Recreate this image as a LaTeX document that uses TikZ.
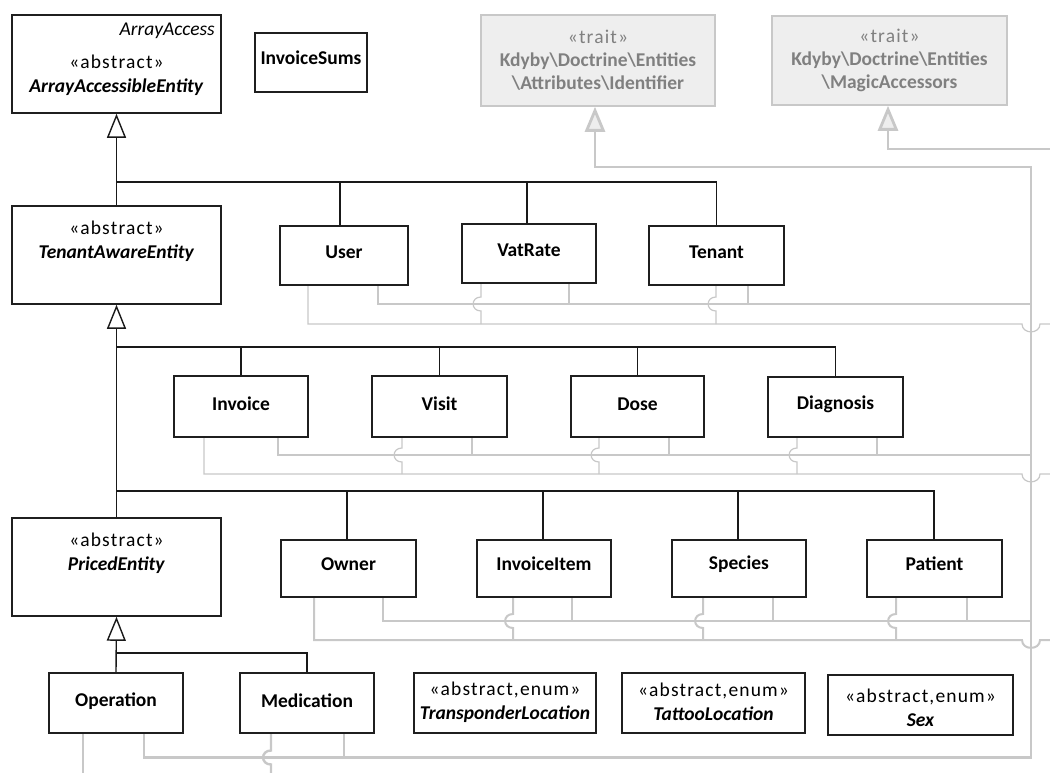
\documentclass[tikz,border=0pt]{standalone}
\usepackage{fontspec}
\setmainfont{Carlito}
\newfontfamily\stfont[LetterSpace=6]{Carlito}
\usetikzlibrary{arrows.meta}
\pgfdeclarelayer{paper}
\pgfdeclarelayer{wires}
\pgfsetlayers{paper,wires,main}

\definecolor{lineg}{RGB}{200,200,200}
\definecolor{tfill}{RGB}{238,238,238}
\definecolor{ttext}{RGB}{128,128,128}

% class box spanning x1..x2, y1..y2 (y grows downwards)
\newcommand\umlbox[6][cbox]{\node[#1, minimum width={#5-#3}, minimum height={#6-#4}] (#2) at ({(#3+#5)/2},{(#4+#6)/2}) {};}
% vertical wire jumping over a horizontal one at (x,y)
\newcommand\vhop[2]{-- (#1,#2-7) .. controls (#1-10.5,#2-7) and (#1-10.5,#2+7) .. (#1,#2+7)}
% horizontal wire jumping over the vertical trunk at (x,y)
\newcommand\hhop[2]{-- (#1-9,#2) .. controls (#1-9,#2+10.5) and (#1+9,#2+10.5) .. (#1+9,#2)}

\begin{document}
\begin{tikzpicture}[x=1pt,y=-1pt,
  cbox/.style={draw=black!88, line width=1.6pt, fill=white, inner sep=0pt},
  tbox/.style={draw=lineg, line width=1.6pt, fill=tfill, inner sep=0pt},
  lbl/.style={inner sep=0pt, align=center, font=\fontsize{19.5}{24}\selectfont},
  tlbl/.style={lbl, text=ttext, font=\fontsize{19.5}{23}\selectfont},
  gen/.style={draw=black!90, line width=1.4pt},
  opentri/.style={-{Triangle[open, length=24pt, width=19pt]}},
  ga/.style={draw=lineg, line width=1.2pt},
  gb/.style={draw=lineg, line width=2pt},
  gc/.style={draw=lineg, line width=2.4pt, line cap=rect},
  gt/.style={draw=lineg, line width=2.8pt, line cap=rect},
  traitarrow/.style={-{Triangle[length=25pt, width=20pt, fill=tfill]}}
]
\begin{pgfonlayer}{paper}
  \fill[white] (0,0) rectangle (1050,773);
\end{pgfonlayer}
\useasboundingbox (0,0) rectangle (1050,773);

% ---------- classes ----------
\umlbox{AAE}{12}{15}{221}{113}
\node[lbl, anchor=east, font=\fontsize{19.5}{24}\selectfont\itshape] (AAE-if) at (215,31) {ArrayAccess};
\node[lbl] (AAE-t) at (116.5,75) {{\stfont «abstract»}\\\textbf{\textit{ArrayAccessibleEntity}}};

\umlbox{Sums}{255}{33}{367}{92}
\node[lbl] (Sums-t) at (311,58) {\textbf{InvoiceSums}};

\umlbox[tbox]{Ident}{481}{15}{715}{106}
\node[tlbl] (Ident-t) at (598,60) {{\stfont «trait»}\\\textbf{Kdyby\textbackslash Doctrine\textbackslash Entities}\\\textbf{\textbackslash Attributes\textbackslash Identifier}};

\umlbox[tbox]{Magic}{772}{16}{1007}{105}
\node[tlbl] (Magic-t) at (889.5,60) {{\stfont «trait»}\\\textbf{Kdyby\textbackslash Doctrine\textbackslash Entities}\\\textbf{\textbackslash MagicAccessors}};

\umlbox{TAE}{12}{206}{221}{304}
\node[lbl] (TAE-t) at (116.5,241) {{\stfont «abstract»}\\\textbf{\textit{TenantAwareEntity}}};

\umlbox{User}{280}{226}{408}{285}
\node[lbl] (User-t) at (344,252) {\textbf{User}};
\umlbox{VatRate}{462}{224}{596}{283}
\node[lbl] (VatRate-t) at (529,250) {\textbf{VatRate}};
\umlbox{Tenant}{649}{226}{784}{285}
\node[lbl] (Tenant-t) at (716.5,252) {\textbf{Tenant}};

\umlbox{Invoice}{174}{376}{308}{437}
\node[lbl] (Invoice-t) at (241,404) {\textbf{Invoice}};
\umlbox{Visit}{372}{376}{507}{437}
\node[lbl] (Visit-t) at (439.5,404) {\textbf{Visit}};
\umlbox{Dose}{571}{376}{704}{437}
\node[lbl] (Dose-t) at (637.5,404) {\textbf{Dose}};
\umlbox{Diagnosis}{768}{377}{903}{437}
\node[lbl] (Diagnosis-t) at (835.5,404) {\textbf{Diagnosis}};

\umlbox{PE}{12}{518}{221}{616}
\node[lbl] (PE-t) at (116.5,553) {{\stfont «abstract»}\\\textbf{\textit{PricedEntity}}};

\umlbox{Owner}{281}{540}{416}{597}
\node[lbl] (Owner-t) at (348.5,564) {\textbf{Owner}};
\umlbox{InvoiceItem}{477}{540}{611}{597}
\node[lbl] (InvoiceItem-t) at (544,564) {\textbf{InvoiceItem}};
\umlbox{Species}{672}{540}{806}{597}
\node[lbl] (Species-t) at (739,564) {\textbf{Species}};
\umlbox{Patient}{867}{540}{1002}{597}
\node[lbl] (Patient-t) at (934.5,564) {\textbf{Patient}};

\umlbox{Operation}{49}{673}{183}{733}
\node[lbl] (Operation-t) at (116,701) {\textbf{Operation}};
\umlbox{Medication}{240}{673}{374}{733}
\node[lbl] (Medication-t) at (307,701) {\textbf{Medication}};

\umlbox{Transp}{414}{673}{596}{733}
\node[lbl] (Transp-t) at (505,702) {{\stfont «abstract,enum»}\\\textbf{\textit{TransponderLocation}}};
\umlbox{Tattoo}{622}{673}{805}{733}
\node[lbl] (Tattoo-t) at (713.5,702) {{\stfont «abstract,enum»}\\\textbf{\textit{TattooLocation}}};
\umlbox{Sex}{828}{675}{1013}{735}
\node[lbl] (Sex-t) at (920.5,708) {{\stfont «abstract,enum»}\\\textbf{\textit{Sex}}};

% ---------- wire end points ----------
\coordinate (idcorner) at (1031,167);
\coordinate (idbottom) at (1031,757.5);
\coordinate (maout) at (1050,149);
\coordinate (r1out) at (1050,324);
\coordinate (r2out) at (1050,474);
\coordinate (r3out) at (1050,640);
\coordinate (opout) at (83,773);
\coordinate (medout) at (271,773);
\coordinate (b1) at (116.5,182);
\coordinate (b2) at (116.5,347);
\coordinate (b3) at (116.5,491);
\coordinate (b4) at (116.5,653);

\begin{pgfonlayer}{wires}
% ---------- generalisation tree ----------
\draw[gen, opentri] (TAE.north) -- (AAE.south);
\draw[gen] (340,0 |- User.north) |- (b1);
\draw[gen] (527,0 |- VatRate.north) |- (b1);
\draw[gen] (Tenant.north) |- (b1);

\draw[gen, opentri] (PE.north) -- (TAE.south);
\draw[gen] (Invoice.north) |- (b2);
\draw[gen] (Visit.north) |- (b2);
\draw[gen] (Dose.north) |- (b2);
\draw[gen] (Diagnosis.north) |- (b2);
\draw[gen] (347,0 |- Owner.north) |- (b3);
\draw[gen] (543,0 |- InvoiceItem.north) |- (b3);
\draw[gen] (738,0 |- Species.north) |- (b3);
\draw[gen] (934,0 |- Patient.north) |- (b3);

\draw[gen, opentri] (Operation.north) -- (PE.south);
\draw[gen] (Medication.north) |- (b4);

% ---------- trait usage wires ----------
\draw[gt, traitarrow] (idbottom) -- (idcorner) -| (595,0 |- Ident.south);
\draw[gt, traitarrow] (maout) -| (888,0 |- Magic.south);

% row of User, VatRate, Tenant
\draw[ga] (308,0 |- User.south) -- (308,324) \hhop{1031}{324} -- (r1out);
\draw[ga] (378,0 |- User.south) |- (idcorner |- 0,304);
\draw[ga] (481,0 |- VatRate.south) \vhop{481}{304} -- (481,324);
\draw[ga] (569,0 |- VatRate.south) -- (569,304);
\draw[ga] (716,0 |- Tenant.south) \vhop{716}{304} -- (716,324);
\draw[ga] (748,0 |- Tenant.south) -- (748,304);

% row of Invoice, Visit, Dose, Diagnosis
\draw[ga] (204,0 |- Invoice.south) -- (204,474) \hhop{1031}{474} -- (r2out);
\draw[ga] (278,0 |- Invoice.south) |- (idcorner |- 0,455);
\draw[ga] (402,0 |- Visit.south) \vhop{402}{455} -- (402,474);
\draw[ga] (472,0 |- Visit.south) -- (472,455);
\draw[ga] (599,0 |- Dose.south) \vhop{599}{455} -- (599,474);
\draw[ga] (669,0 |- Dose.south) -- (669,455);
\draw[ga] (797,0 |- Diagnosis.south) \vhop{797}{455} -- (797,474);
\draw[ga] (877,0 |- Diagnosis.south) -- (877,455);

% row of Owner, InvoiceItem, Species, Patient
\draw[gb] (314,0 |- Owner.south) -- (314,640) \hhop{1031}{640} -- (r3out);
\draw[gb] (383,0 |- Owner.south) |- (idcorner |- 0,621);
\draw[gb] (513,0 |- InvoiceItem.south) \vhop{513}{621} -- (513,640);
\draw[gb] (572,0 |- InvoiceItem.south) -- (572,621);
\draw[gb] (703,0 |- Species.south) \vhop{703}{621} -- (703,640);
\draw[gb] (773,0 |- Species.south) -- (773,621);
\draw[gb] (896,0 |- Patient.south) \vhop{896}{621} -- (896,640);
\draw[gb] (967,0 |- Patient.south) -- (967,621);

% row of Operation, Medication
\draw[gc] (144,0 |- Operation.south) |- (idbottom);
\draw[gc] (344,0 |- Medication.south) -- (344,757.5);
\draw[gc, line cap=butt] (83,0 |- Operation.south) -- (opout);
\draw[gc, line cap=butt] (271,0 |- Medication.south) \vhop{271}{757.5} -- (medout);
\end{pgfonlayer}
\end{tikzpicture}
\end{document}
